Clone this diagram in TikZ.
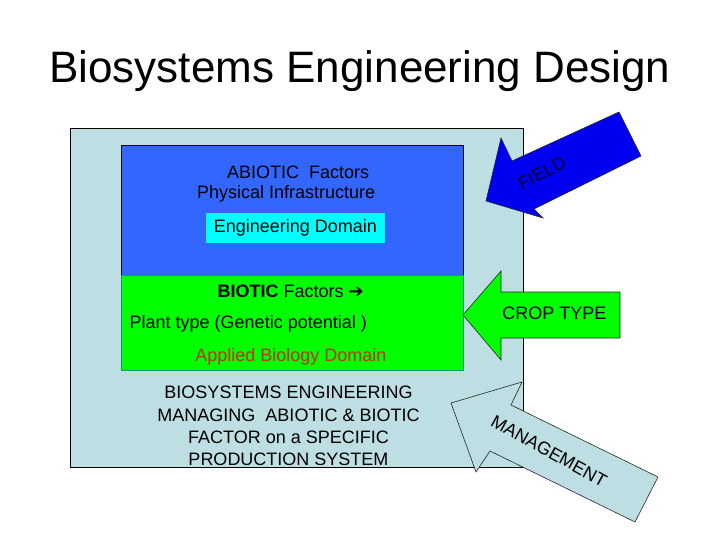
\documentclass[tikz,border=0pt]{standalone}
\usepackage{fontspec}
\setmainfont{Liberation Sans}
\newfontfamily\symfont{DejaVu Sans}
\usetikzlibrary{positioning}
\definecolor{cSky}{HTML}{BDDEE3}
\definecolor{cAbiotic}{HTML}{3366FF}
\definecolor{cBiotic}{HTML}{00FF00}
\definecolor{cDomain}{HTML}{00FFFF}
\definecolor{cField}{HTML}{0000F0}
\definecolor{cFieldTxt}{HTML}{000030}
\definecolor{cAppl}{HTML}{C0301A}
\definecolor{cEdge}{HTML}{00A070}
\tikzset{
  txt/.style  ={font=\fontsize{18}{22.3}\selectfont, inner sep=0pt},
  panel/.style={draw=black, line width=0.8pt},
  blk/.style  ={draw=black!85, line width=0.6pt, line join=miter},
}

\begin{document}
\begin{tikzpicture}[x=1pt,y=-1pt]
        \useasboundingbox (0,0) rectangle (720,540);
        \node[font=\fontsize{44}{50}\selectfont, inner sep=0pt, anchor=base] (title) at (360,83) {Biosystems Engineering Design};
        % panels
        \draw[panel, fill=cSky] (70,128) rectangle (523,467);
        \draw[panel, fill=cAbiotic] (121,145) rectangle (463,275);
        \draw[draw=cEdge, line width=0.8pt, fill=cBiotic] (121,275) rectangle (463,370);
        \node[txt, anchor=base west] (abio) at (227,178.5) {ABIOTIC\ \ Factors};
        \node[txt, anchor=base west] (phys) at (197,198.5) {Physical Infrastructure};
        \node[txt, fill=cDomain, minimum width=179pt, minimum height=29.5pt] (eng) at (295.5,228) {Engineering Domain};
        \node[txt, anchor=base west] (bio) at (217.5,297) {\textbf{BIOTIC} Factors {\symfont\bfseries ➔}};
        \node[txt, anchor=base west] (plant) at (129.5,328.5) {Plant type (Genetic potential )};
        \node[txt, anchor=base, text=cAppl] (appl) at (291,361) {Applied Biology Domain};
        \node[txt, align=center] (bse) at (288.5,426) {BIOSYSTEMS ENGINEERING\\MANAGING\ \ ABIOTIC \& BIOTIC\\FACTOR on a SPECIFIC\\PRODUCTION SYSTEM};
        % block arrows
        \draw[blk, fill=cField] (486,201) -- (543,218) -- (534,209) -- (641,156) -- (619,112) -- (512,161) -- (501,138) -- cycle;
        \node[txt, text=cFieldTxt, rotate=27] (field) at (542,173) {FIELD};
        \draw[blk, fill=cBiotic] (463,315) -- (501,271) -- (501,292) -- (620,292) -- (620,338) -- (501,338) -- (501,360) -- cycle;
        \node[txt, anchor=base] (crop) at (554.5,319) {CROP TYPE};
        \draw[blk, fill=cSky] (522,382) -- (511,405) -- (658,477) -- (635,522) -- (490,451) -- (476,472) -- (451,403) -- cycle;
        \node[txt, rotate=-29] (mgmt) at (549,451) {MANAGEMENT};
      \end{tikzpicture}
\end{document}
